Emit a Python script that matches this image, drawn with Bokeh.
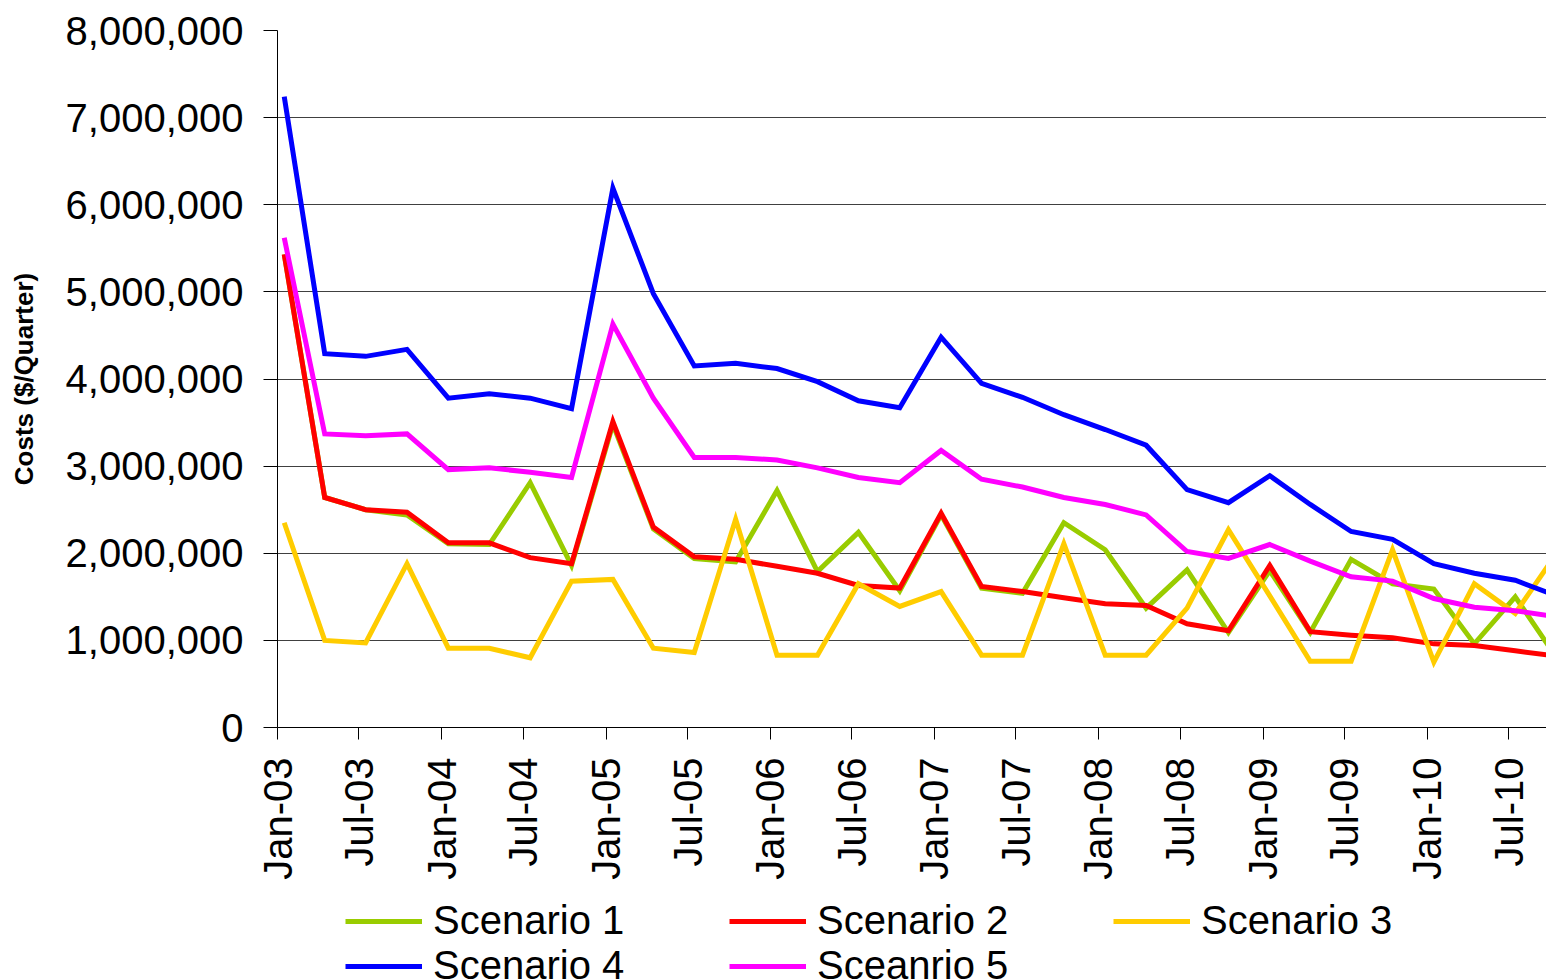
import math
import pandas as pd
from datetime import datetime
from bokeh.plotting import figure
from bokeh.layouts import column
from bokeh.models import (Range1d, FixedTicker, DatetimeTickFormatter,
                          NumeralTickFormatter, Legend, LegendItem)
from bokeh.embed import file_html
from bokeh.resources import INLINE

# ---------------- data ----------------
quarters = [f"{y}Q{q}" for y in range(2003, 2011) for q in range(1, 5)]

scenario_1 = [5430000, 2640000, 2500000, 2440000, 2110000, 2100000, 2810000, 1860000,
              3480000, 2280000, 1940000, 1900000, 2720000, 1790000, 2240000, 1570000,
              2440000, 1600000, 1540000, 2350000, 2040000, 1370000, 1810000, 1090000,
              1800000, 1090000, 1930000, 1650000, 1590000, 960000, 1500000, 800000]
scenario_2 = [5430000, 2640000, 2500000, 2470000, 2120000, 2120000, 1950000, 1880000,
              3510000, 2300000, 1960000, 1930000, 1850000, 1770000, 1630000, 1600000,
              2460000, 1620000, 1560000, 1490000, 1420000, 1400000, 1190000, 1110000,
              1860000, 1100000, 1060000, 1030000, 960000, 940000, 880000, 820000]
scenario_3 = [2350000, 1000000, 970000, 1880000, 910000, 910000, 800000, 1680000,
              1700000, 910000, 860000, 2390000, 830000, 830000, 1650000, 1390000,
              1560000, 830000, 830000, 2110000, 830000, 830000, 1370000, 2270000,
              1510000, 760000, 760000, 2040000, 750000, 1650000, 1310000, 2000000]
scenario_4 = [7240000, 4290000, 4260000, 4340000, 3780000, 3830000, 3780000, 3660000,
              6190000, 4980000, 4150000, 4180000, 4120000, 3970000, 3750000, 3670000,
              4480000, 3950000, 3790000, 3590000, 3420000, 3240000, 2730000, 2580000,
              2890000, 2560000, 2250000, 2160000, 1880000, 1770000, 1690000, 1510000]
scenario_5 = [5620000, 3370000, 3350000, 3370000, 2960000, 2980000, 2930000, 2870000,
              4630000, 3780000, 3100000, 3100000, 3070000, 2980000, 2870000, 2810000,
              3180000, 2850000, 2760000, 2640000, 2560000, 2440000, 2020000, 1940000,
              2100000, 1910000, 1730000, 1680000, 1480000, 1380000, 1340000, 1270000]

series_names = ["Scenario 1", "Scenario 2", "Scenario 3", "Scenario 4", "Sceanrio 5"]
series_colors = ["#99CC00", "#FF0000", "#FFCC00", "#0000FF", "#FF00FF"]

tick_labels = ["Jan-03", "Jul-03", "Jan-04", "Jul-04", "Jan-05", "Jul-05", "Jan-06", "Jul-06",
               "Jan-07", "Jul-07", "Jan-08", "Jul-08", "Jan-09", "Jul-09", "Jan-10", "Jul-10"]

y_ticks = [0, 1000000, 2000000, 3000000, 4000000, 5000000, 6000000, 7000000, 8000000]

# ---------------- derived ----------------
dates = [pd.Period(q, freq="Q").start_time + pd.Timedelta(days=15) for q in quarters]
tick_dates = [pd.to_datetime(t, format="%b-%y") for t in tick_labels]
tick_ms = [d.value / 1e6 for d in tick_dates]

FONT = "Liberation Sans"
LW = 5
X_START, X_END = datetime(2003, 1, 1), datetime(2010, 9, 23, 12)

p = figure(frame_width=1269, frame_height=697, output_backend="svg", toolbar_location=None,
           x_axis_type="datetime",
           x_range=Range1d(X_START, X_END),
           y_range=Range1d(0, 8000000),
           min_border_left=277, min_border_top=30, min_border_right=0, min_border_bottom=0)
p.outline_line_color = None
p.background_fill_color = "white"
p.border_fill_color = "white"

all_series = [scenario_1, scenario_2, scenario_3, scenario_4, scenario_5]
for vals, col in zip(all_series, series_colors):
    p.line(dates, vals, line_color=col, line_width=LW, line_join="miter")

# x axis
xa = p.xaxis[0]
xa.ticker = FixedTicker(ticks=tick_ms)
xa.formatter = DatetimeTickFormatter(months="%b-%y", years="%b-%y", days="%b-%y",
                                     boundary_scaling=False, strip_leading_zeros=False)
xa.major_label_orientation = math.pi / 2
xa.major_label_text_font = FONT
xa.major_label_text_font_size = "40px"
xa.major_label_text_color = "black"
xa.major_label_standoff = 18
xa.major_tick_out = 12
xa.major_tick_in = 0
xa.minor_tick_line_color = None
xa.axis_line_color = "black"
xa.major_tick_line_color = "black"

# y axis
ya = p.yaxis[0]
ya.ticker = FixedTicker(ticks=y_ticks)
ya.formatter = NumeralTickFormatter(format="0,0")
ya.major_label_text_font = FONT
ya.major_label_text_font_size = "40px"
ya.major_label_text_color = "black"
ya.major_label_standoff = 20
ya.major_tick_out = 14
ya.major_tick_in = 0
ya.minor_tick_line_color = None
ya.axis_line_color = "black"
ya.major_tick_line_color = "black"
ya.axis_label = "Costs ($/Quarter)"
ya.axis_label_text_font = FONT
ya.axis_label_text_font_style = "bold"
ya.axis_label_text_font_size = "26px"
ya.axis_label_text_color = "black"
ya.axis_label_standoff = 24

p.xgrid.grid_line_color = None
p.ygrid.grid_line_color = "#404040"
p.ygrid.grid_line_width = 1

# ---------------- legend strip below the chart ----------------
# proxy renderers (same series, drawn outside this strip's visible y range) carry the legend glyphs
lg = figure(width=1546, height=101, output_backend="svg", toolbar_location=None,
            x_axis_type="datetime", x_range=Range1d(X_START, X_END),
            y_range=Range1d(9000000, 10000000),
            x_axis_location=None, y_axis_location=None,
            min_border_left=0, min_border_right=0, min_border_top=0, min_border_bottom=0)
lg.outline_line_color = None
lg.xgrid.visible = False
lg.ygrid.visible = False
legend_renderers = [lg.line(dates, vals, line_color=col, line_width=LW)
                    for vals, col in zip(all_series, series_colors)]

legend = Legend(items=[LegendItem(label=n, renderers=[r]) for n, r in zip(series_names, legend_renderers)],
                orientation="horizontal", ncols=3, location=(68, -5),
                label_text_font=FONT, label_text_font_size="40px", label_text_color="black",
                glyph_width=77, glyph_height=20, label_standoff=11, label_width=296,
                spacing=0, padding=0, margin=0,
                border_line_color=None, background_fill_alpha=0)
lg.add_layout(legend, "center")

layout = column(p, lg, spacing=0)
open("out.html", "w").write(file_html(layout, INLINE))
